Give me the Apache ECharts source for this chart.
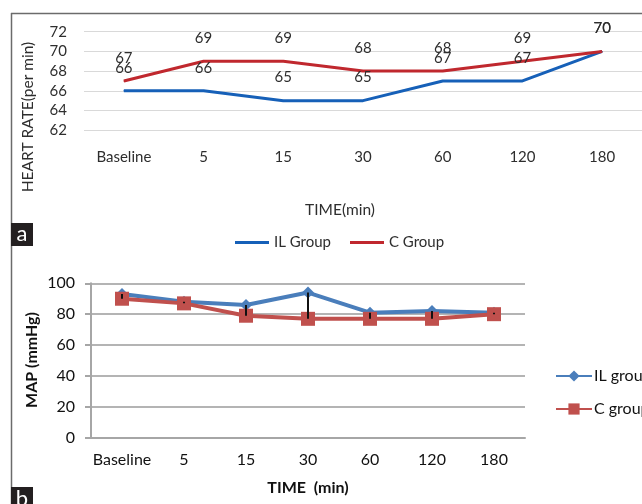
<!DOCTYPE html>
<html>
<head>
<meta charset="utf-8">
<script src="https://cdn.jsdelivr.net/npm/echarts@6/dist/echarts.min.js"></script>
<style>
html,body{margin:0;padding:0;background:#fff;}
#c{width:642px;height:504px;}
</style>
</head>
<body>
<div id="c"></div>
<script>
// ---- data ----
const categories = ['Baseline', '5', '15', '30', '60', '120', '180'];
const hrIL = [66, 66, 65, 65, 67, 67, 70];
const hrC = [67, 69, 69, 68, 68, 69, 70];
const mapIL = [93, 88, 86, 94, 81, 82, 81];
const mapC = [90, 87, 79, 77, 77, 77, 80];
const hrSeriesNames = ['IL Group', 'C Group'];
const mapSeriesNames = ['IL group', 'C group'];

const FONT = 'Lato, "Open Sans", sans-serif';
const chart = echarts.init(document.getElementById('c'), null, {renderer: 'canvas'});

const hiLow = categories.map((c, i) => [i, mapIL[i], mapC[i]]);

const option = {
  backgroundColor: '#fff',
  animation: false,
  textStyle: {fontFamily: FONT},
  grid: [
    {left: 84, top: 31.7, width: 566, height: 98.5},
    {left: 91, top: 283.3, width: 434, height: 154.4}
  ],
  xAxis: [
    {
      type: 'category', gridIndex: 0, data: categories, boundaryGap: true,
      axisLine: {show: false}, axisTick: {show: false},
      axisLabel: {interval: 0, color: '#2e2e2e', fontSize: 15, margin: 19, fontFamily: FONT}
    },
    {
      type: 'category', gridIndex: 1, data: categories, boundaryGap: true,
      axisLine: {show: true, lineStyle: {color: '#a6a6a6', width: 2}}, axisTick: {show: false},
      axisLabel: {interval: 0, color: '#111', fontSize: 16, margin: 14, fontFamily: FONT}
    }
  ],
  yAxis: [
    {
      type: 'value', gridIndex: 0, min: 62, max: 72, interval: 2,
      axisLine: {show: false}, axisTick: {show: false},
      splitLine: {lineStyle: {color: '#d9d9d9', width: 1}},
      axisLabel: {color: '#2e2e2e', fontSize: 15, margin: 17, fontFamily: FONT}
    },
    {
      type: 'value', gridIndex: 1, min: 0, max: 100, interval: 20,
      axisLine: {show: true, lineStyle: {color: '#a6a6a6', width: 2}},
      axisTick: {show: true, length: 6, lineStyle: {color: '#a6a6a6', width: 2}},
      splitLine: {lineStyle: {color: '#b4b4b4', width: 2}},
      axisLabel: {color: '#111', fontSize: 16, margin: 16, fontFamily: FONT}
    }
  ],
  legend: [
    {
      data: hrSeriesNames, left: 230, top: 230, itemGap: 19,
      itemWidth: 34, itemHeight: 3, icon: 'rect',
      textStyle: {color: '#2e2e2e', fontSize: 15, fontFamily: FONT}
    },
    {
      data: mapSeriesNames, orient: 'vertical', left: 550, top: 363, itemGap: 17,
      itemWidth: 36, itemHeight: 14,
      textStyle: {color: '#111', fontSize: 16, fontFamily: FONT, padding: [0, 0, 0, -3]}
    }
  ],
  series: [
    {
      name: hrSeriesNames[0], type: 'line', xAxisIndex: 0, yAxisIndex: 0, data: hrIL,
      symbol: 'circle', symbolSize: 1,
      lineStyle: {color: '#1660b8', width: 3}, itemStyle: {color: '#1660b8'},
      label: {show: true, position: 'top', distance: 15, color: '#2e2e2e', fontSize: 15, fontFamily: FONT}
    },
    {
      name: hrSeriesNames[1], type: 'line', xAxisIndex: 0, yAxisIndex: 0, data: hrC,
      symbol: 'circle', symbolSize: 1,
      lineStyle: {color: '#c0282e', width: 3}, itemStyle: {color: '#c0282e'},
      label: {show: true, position: 'top', distance: 15, color: '#2e2e2e', fontSize: 15, fontFamily: FONT}
    },
    {
      name: mapSeriesNames[0], type: 'line', xAxisIndex: 1, yAxisIndex: 1, data: mapIL,
      symbol: 'diamond', symbolSize: 12,
      lineStyle: {color: '#4a7ebb', width: 4}, itemStyle: {color: '#4a7ebb'}
    },
    {
      name: mapSeriesNames[1], type: 'line', xAxisIndex: 1, yAxisIndex: 1, data: mapC,
      symbol: 'rect', symbolSize: 14,
      lineStyle: {color: '#c0504d', width: 4}, itemStyle: {color: '#c0504d'}
    },
    {
      name: 'hilow', type: 'custom', xAxisIndex: 1, yAxisIndex: 1, data: hiLow, z: 10,
      renderItem: function (params, api) {
        const p1 = api.coord([api.value(0), api.value(1)]);
        const p2 = api.coord([api.value(0), api.value(2)]);
        return {type: 'line', shape: {x1: p1[0], y1: p1[1], x2: p2[0], y2: p2[1]},
          style: {stroke: '#111', lineWidth: 2}};
      }
    }
  ],
  graphic: [
    {type: 'line', shape: {x1: 11, y1: 13.5, x2: 642, y2: 13.5}, style: {stroke: '#6b6b6b', lineWidth: 1.5}},
    {type: 'line', shape: {x1: 11.5, y1: 13, x2: 11.5, y2: 504}, style: {stroke: '#6b6b6b', lineWidth: 1.5}},
    {type: 'text', x: 28, y: 117, rotation: Math.PI / 2,
      style: {text: 'HEART RATE(per min)', fill: '#2e2e2e', font: '15.5px ' + FONT, align: 'center', verticalAlign: 'middle'}},
    {type: 'text', x: 340, y: 210,
      style: {text: 'TIME(min)', fill: '#2e2e2e', font: '15.5px ' + FONT, align: 'center', verticalAlign: 'middle'}},
    {type: 'text', x: 32, y: 360, rotation: Math.PI / 2,
      style: {text: 'MAP (mmHg)', fill: '#111', font: 'bold 16px ' + FONT, align: 'center', verticalAlign: 'middle'}},
    {type: 'text', x: 308, y: 488,
      style: {text: 'TIME  (min)', fill: '#111', font: 'bold 16px ' + FONT, align: 'center', verticalAlign: 'middle'}},
    {type: 'rect', shape: {x: 11, y: 223, width: 22, height: 23}, style: {fill: '#231f20'}},
    {type: 'text', x: 22, y: 234,
      style: {text: 'a', fill: '#fff', font: '22px ' + FONT, align: 'center', verticalAlign: 'middle'}},
    {type: 'rect', shape: {x: 11, y: 487, width: 22, height: 20}, style: {fill: '#231f20'}},
    {type: 'text', x: 22, y: 499,
      style: {text: 'b', fill: '#fff', font: '22px ' + FONT, align: 'center', verticalAlign: 'middle'}}
  ]
};
chart.setOption(option);
</script>
</body>
</html>
